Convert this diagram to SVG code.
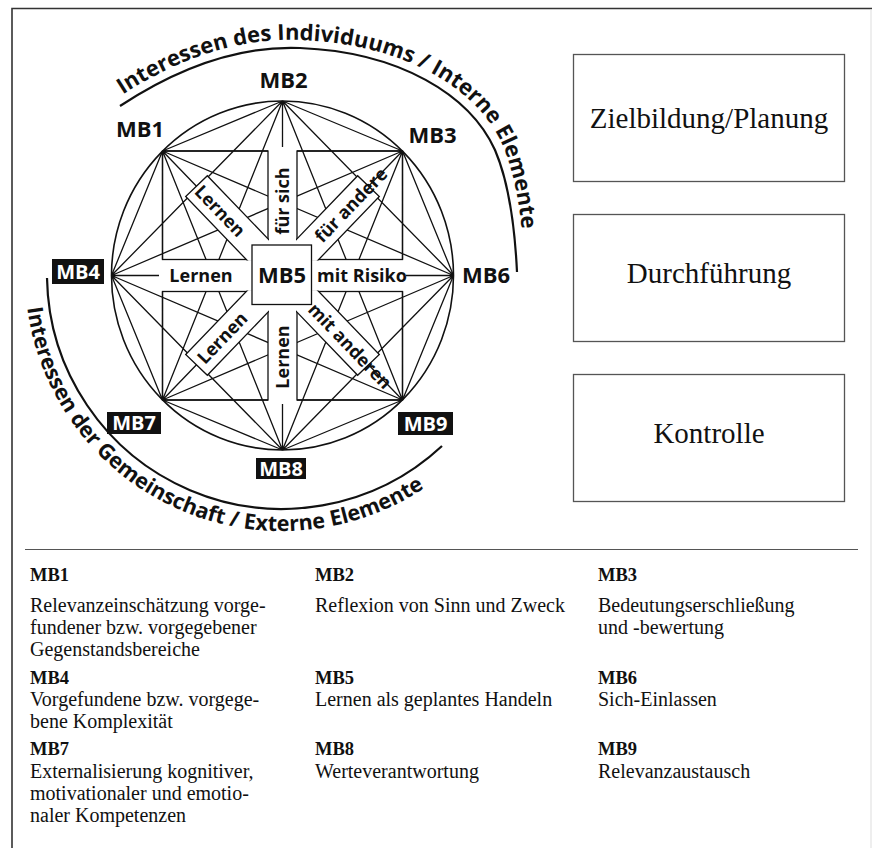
<svg xmlns="http://www.w3.org/2000/svg" width="872" height="848" viewBox="0 0 872 848">
<style>
.ln{stroke:#111;stroke-width:1.3;fill:none}
.lbl{font-family:"Open Sans","Noto Sans","Liberation Sans",sans-serif;font-weight:700;fill:#111}
.mb{font-size:22px;text-anchor:middle}
.bt{font-size:18px;text-anchor:middle}
.inv{fill:#fff;font-size:20px;text-anchor:middle}
.arc{font-size:22px}
.arc2{font-size:21.5px}
.box{fill:#fff;stroke:#555;stroke-width:1.3}
.boxt{font-family:"Liberation Serif","Times New Roman",serif;font-size:29px;text-anchor:middle;fill:#111}
.sr{font-family:"Liberation Serif","Times New Roman",serif;fill:#111;font-size:20px}
.hd{font-weight:700;font-size:18.5px}
.wb{fill:#fff;stroke:#111;stroke-width:1.3}
</style>
<defs>
<clipPath id="qTL"><rect x="150" y="140" width="119" height="120.5"/></clipPath>
<clipPath id="qTR"><rect x="296" y="140" width="124" height="120.5"/></clipPath>
<clipPath id="qBL"><rect x="150" y="290.5" width="119" height="120"/></clipPath>
<clipPath id="qBR"><rect x="296" y="290.5" width="124" height="120"/></clipPath>
<path id="topTextPath" d="M116,99 C186,52 248,38 300,40 C405,44 478,89 503,146 C518,182 523,229 525,272"/>
<path id="botTextPath" d="M27.2,307.9 A257,257 0 0 0 478.9,439.2"/>
</defs>
<rect width="872" height="848" fill="#fff"/>
<path d="M12,848 V8.5 H872" fill="none" stroke="#333" stroke-width="1.6"/>
<line x1="871" y1="9" x2="871" y2="848" stroke="#ddd"/>

<g id="arcs" class="ln">
<path d="M120,106 C190,60 250,46 300,48 C400,52 470,95 495,150 C510,185 515,230 517,272" stroke-width="2.2"/>
<path d="M47,278 A235,235 0 0 0 442,446" stroke-width="2.2"/>
</g>
<g id="arc-labels" class="lbl">
<text class="arc"><textPath href="#topTextPath" startOffset="8">Interessen des Individuums / Interne Elemente</textPath></text>
<text class="arc2"><textPath href="#botTextPath">Interessen der Gemeinschaft / Externe Elemente</textPath></text>
</g>

<g id="connectors" class="ln">
<ellipse cx="282.5" cy="275.5" rx="171" ry="174.5" stroke-width="1.6"/>
<path d="M162.5,151L282.5,101 M162.5,151L402.5,151 M162.5,151L111.5,275.5 M162.5,151L453.5,275.5 M162.5,151L162.5,400 M162.5,151L282.5,450 M162.5,151L402.5,400 M282.5,101L402.5,151 M282.5,101L111.5,275.5 M282.5,101L453.5,275.5 M282.5,101L162.5,400 M282.5,101L282.5,450 M282.5,101L402.5,400 M402.5,151L111.5,275.5 M402.5,151L453.5,275.5 M402.5,151L162.5,400 M402.5,151L282.5,450 M402.5,151L402.5,400 M111.5,275.5L453.5,275.5 M111.5,275.5L162.5,400 M111.5,275.5L282.5,450 M111.5,275.5L402.5,400 M453.5,275.5L162.5,400 M453.5,275.5L282.5,450 M453.5,275.5L402.5,400 M162.5,400L282.5,450 M162.5,400L402.5,400 M282.5,450L402.5,400"/>
</g>

<g id="bands">
<path fill="#fff" d="M268,147 H297 V404 H268 Z M159,259.5 H406 V291.5 H159 Z"/>
<g class="ln">
<rect x="162.5" y="151" width="105.5" height="108.5"/>
<rect x="297" y="151" width="105.5" height="108.5"/>
<rect x="162.5" y="291.5" width="105.5" height="108.5"/>
<rect x="297" y="291.5" width="105.5" height="108.5"/>
</g>
<g clip-path="url(#qTL)"><rect class="wb" x="0" y="-15" width="124" height="30" transform="translate(282.5,275.5) rotate(-133.9)"/></g>
<g clip-path="url(#qTR)"><rect class="wb" x="0" y="-15" width="124" height="30" transform="translate(282.5,275.5) rotate(-46.1)"/></g>
<g clip-path="url(#qBL)"><rect class="wb" x="0" y="-15" width="124" height="30" transform="translate(282.5,275.5) rotate(133.9)"/></g>
<g clip-path="url(#qBR)"><rect class="wb" x="0" y="-15" width="124" height="30" transform="translate(282.5,275.5) rotate(46.1)"/></g>
<g class="lbl bt">
<text transform="translate(283,201) rotate(-90)" dy="0.35em">für sich</text>
<text transform="translate(283,357) rotate(-90)" dy="0.35em">Lernen</text>
<text x="201" y="276" dy="0.35em">Lernen</text>
<text x="362" y="276" dy="0.35em">mit Risiko</text>
<text transform="translate(220,211) rotate(46.1)" dy="0.35em">Lernen</text>
<text transform="translate(351,205) rotate(-46.1)" dy="0.35em">für andere</text>
<text transform="translate(222.3,338) rotate(-46.1)" dy="0.35em">Lernen</text>
<text transform="translate(350,346) rotate(46.1)" dy="0.35em">mit anderen</text>
</g>
</g>

<g id="MB5"><rect x="252" y="245" width="59.5" height="59.5" class="wb"/><text class="lbl mb" x="282" y="283">MB5</text></g>
<g id="MB1"><text class="lbl mb" x="140" y="137">MB1</text></g>
<g id="MB2"><text class="lbl mb" x="283.5" y="88">MB2</text></g>
<g id="MB3"><text class="lbl mb" x="432.5" y="143">MB3</text></g>
<g id="MB6"><text class="lbl mb" x="486" y="283">MB6</text></g>
<g id="MB4"><rect x="52" y="259" width="52" height="25" fill="#111"/><text class="lbl inv" x="78" y="279">MB4</text></g>
<g id="MB7"><rect x="107" y="412" width="54" height="22" fill="#111"/><text class="lbl inv" x="134" y="430">MB7</text></g>
<g id="MB8"><rect x="256" y="458" width="50" height="21" fill="#111"/><text class="lbl inv" x="281" y="476">MB8</text></g>
<g id="MB9"><rect x="398" y="412" width="55" height="23" fill="#111"/><text class="lbl inv" x="425.5" y="431">MB9</text></g>

<g id="zielbildung"><rect x="573.5" y="54.5" width="271" height="127" class="box"/><text class="boxt" x="709" y="128">Zielbildung/Planung</text></g>
<g id="durchfuehrung"><rect x="573.5" y="214.5" width="271" height="127" class="box"/><text class="boxt" x="709" y="283">Durchführung</text></g>
<g id="kontrolle"><rect x="573.5" y="374.5" width="271" height="127" class="box"/><text class="boxt" x="709" y="443">Kontrolle</text></g>

<line x1="25" y1="549.5" x2="858" y2="549.5" stroke="#555" stroke-width="1.2"/>

<g id="legend" class="sr">
<g id="leg-MB1"><text class="hd" x="30" y="581">MB1</text><text x="30" y="612">Relevanzeinschätzung vorge-</text><text x="30" y="634">fundener bzw. vorgegebener</text><text x="30" y="656">Gegenstandsbereiche</text></g>
<g id="leg-MB2"><text class="hd" x="315" y="581">MB2</text><text x="315" y="612">Reflexion von Sinn und Zweck</text></g>
<g id="leg-MB3"><text class="hd" x="598" y="581">MB3</text><text x="598" y="612">Bedeutungserschließung</text><text x="598" y="634">und -bewertung</text></g>
<g id="leg-MB4"><text class="hd" x="30" y="684">MB4</text><text x="30" y="706">Vorgefundene bzw. vorgege-</text><text x="30" y="728">bene Komplexität</text></g>
<g id="leg-MB5"><text class="hd" x="315" y="684">MB5</text><text x="315" y="706">Lernen als geplantes Handeln</text></g>
<g id="leg-MB6"><text class="hd" x="598" y="684">MB6</text><text x="598" y="706">Sich-Einlassen</text></g>
<g id="leg-MB7"><text class="hd" x="30" y="755">MB7</text><text x="30" y="778">Externalisierung kognitiver,</text><text x="30" y="800">motivationaler und emotio-</text><text x="30" y="822">naler Kompetenzen</text></g>
<g id="leg-MB8"><text class="hd" x="315" y="755">MB8</text><text x="315" y="778">Werteverantwortung</text></g>
<g id="leg-MB9"><text class="hd" x="598" y="755">MB9</text><text x="598" y="778">Relevanzaustausch</text></g>
</g>
</svg>
